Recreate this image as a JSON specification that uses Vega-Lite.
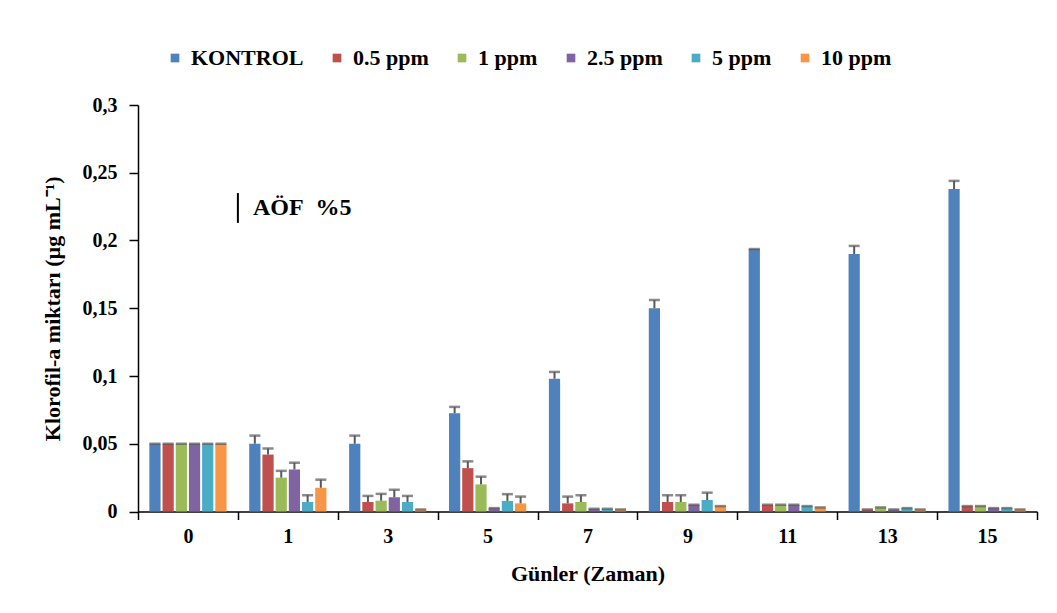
{
  "$schema": "https://vega.github.io/schema/vega-lite/v6.json",
  "width": 899,
  "height": 406.5,
  "autosize": {"type": "none"},
  "padding": {"left": 138, "top": 105, "right": 20, "bottom": 101},
  "background": "white",
  "config": {
    "font": "Liberation Serif",
    "view": {"stroke": null},
    "axis": {
      "labelFont": "Liberation Serif",
      "titleFont": "Liberation Serif",
      "labelFontWeight": "bold",
      "titleFontWeight": "bold",
      "labelColor": "black",
      "titleColor": "black",
      "domainColor": "black",
      "tickColor": "black",
      "domainWidth": 1.5,
      "tickWidth": 1.5,
      "grid": false
    },
    "legend": {
      "labelFont": "Liberation Serif",
      "labelFontWeight": "bold",
      "labelColor": "black"
    }
  },
  "data": {
    "values": [
      {"day": "0", "group": "KONTROL", "value": 0.05, "err": 0},
      {"day": "0", "group": "0.5 ppm", "value": 0.05, "err": 0},
      {"day": "0", "group": "1 ppm", "value": 0.05, "err": 0},
      {"day": "0", "group": "2.5 ppm", "value": 0.05, "err": 0},
      {"day": "0", "group": "5 ppm", "value": 0.05, "err": 0},
      {"day": "0", "group": "10 ppm", "value": 0.05, "err": 0},
      {"day": "1", "group": "KONTROL", "value": 0.05, "err": 0.006},
      {"day": "1", "group": "0.5 ppm", "value": 0.042, "err": 0.0045},
      {"day": "1", "group": "1 ppm", "value": 0.025, "err": 0.005},
      {"day": "1", "group": "2.5 ppm", "value": 0.031, "err": 0.005},
      {"day": "1", "group": "5 ppm", "value": 0.007, "err": 0.005},
      {"day": "1", "group": "10 ppm", "value": 0.0175, "err": 0.006},
      {"day": "3", "group": "KONTROL", "value": 0.05, "err": 0.006},
      {"day": "3", "group": "0.5 ppm", "value": 0.007, "err": 0.0045},
      {"day": "3", "group": "1 ppm", "value": 0.008, "err": 0.005},
      {"day": "3", "group": "2.5 ppm", "value": 0.0105, "err": 0.0055},
      {"day": "3", "group": "5 ppm", "value": 0.007, "err": 0.0045},
      {"day": "3", "group": "10 ppm", "value": 0.0015, "err": 0},
      {"day": "5", "group": "KONTROL", "value": 0.0725, "err": 0.0047},
      {"day": "5", "group": "0.5 ppm", "value": 0.032, "err": 0.005},
      {"day": "5", "group": "1 ppm", "value": 0.02, "err": 0.0057},
      {"day": "5", "group": "2.5 ppm", "value": 0.0025, "err": 0},
      {"day": "5", "group": "5 ppm", "value": 0.0078, "err": 0.005},
      {"day": "5", "group": "10 ppm", "value": 0.006, "err": 0.005},
      {"day": "7", "group": "KONTROL", "value": 0.098, "err": 0.005},
      {"day": "7", "group": "0.5 ppm", "value": 0.006, "err": 0.005},
      {"day": "7", "group": "1 ppm", "value": 0.007, "err": 0.005},
      {"day": "7", "group": "2.5 ppm", "value": 0.002, "err": 0},
      {"day": "7", "group": "5 ppm", "value": 0.002, "err": 0},
      {"day": "7", "group": "10 ppm", "value": 0.0015, "err": 0},
      {"day": "9", "group": "KONTROL", "value": 0.15, "err": 0.006},
      {"day": "9", "group": "0.5 ppm", "value": 0.007, "err": 0.005},
      {"day": "9", "group": "1 ppm", "value": 0.007, "err": 0.005},
      {"day": "9", "group": "2.5 ppm", "value": 0.005, "err": 0},
      {"day": "9", "group": "5 ppm", "value": 0.0085, "err": 0.0054},
      {"day": "9", "group": "10 ppm", "value": 0.004, "err": 0},
      {"day": "11", "group": "KONTROL", "value": 0.1937, "err": 0},
      {"day": "11", "group": "0.5 ppm", "value": 0.005, "err": 0},
      {"day": "11", "group": "1 ppm", "value": 0.005, "err": 0},
      {"day": "11", "group": "2.5 ppm", "value": 0.005, "err": 0},
      {"day": "11", "group": "5 ppm", "value": 0.004, "err": 0},
      {"day": "11", "group": "10 ppm", "value": 0.003, "err": 0},
      {"day": "13", "group": "KONTROL", "value": 0.19, "err": 0.006},
      {"day": "13", "group": "0.5 ppm", "value": 0.0015, "err": 0},
      {"day": "13", "group": "1 ppm", "value": 0.003, "err": 0},
      {"day": "13", "group": "2.5 ppm", "value": 0.0015, "err": 0},
      {"day": "13", "group": "5 ppm", "value": 0.0025, "err": 0},
      {"day": "13", "group": "10 ppm", "value": 0.0015, "err": 0},
      {"day": "15", "group": "KONTROL", "value": 0.238, "err": 0.006},
      {"day": "15", "group": "0.5 ppm", "value": 0.004, "err": 0},
      {"day": "15", "group": "1 ppm", "value": 0.004, "err": 0},
      {"day": "15", "group": "2.5 ppm", "value": 0.0025, "err": 0},
      {"day": "15", "group": "5 ppm", "value": 0.0025, "err": 0},
      {"day": "15", "group": "10 ppm", "value": 0.0015, "err": 0}
    ]
  },
  "transform": [{"calculate": "datum.value + datum.err", "as": "upper"}],
  "encoding": {
    "x": {
      "field": "day",
      "type": "nominal",
      "sort": ["0", "1", "3", "5", "7", "9", "11", "13", "15"],
      "scale": {"paddingInner": 0, "paddingOuter": 0},
      "axis": {
        "title": "Günler (Zaman)",
        "labelAngle": 0,
        "labelFontSize": 20,
        "titleFontSize": 22,
        "tickBand": "extent",
        "tickSize": 8,
        "labelPadding": 7,
        "titlePadding": 17
      }
    },
    "xOffset": {
      "field": "group",
      "type": "nominal",
      "sort": ["KONTROL", "0.5 ppm", "1 ppm", "2.5 ppm", "5 ppm", "10 ppm"],
      "scale": {"paddingInner": 0.15, "paddingOuter": 0.86}
    }
  },
  "layer": [
    {
      "mark": {"type": "bar"},
      "encoding": {
        "y": {
          "field": "value",
          "type": "quantitative",
          "scale": {"domain": [0, 0.3], "nice": false},
          "axis": {
            "title": "Klorofil-a miktarı (µg mL⁻¹)",
            "values": [0, 0.05, 0.1, 0.15, 0.2, 0.25, 0.3],
            "labelExpr": "replace(format(datum.value, '.2~f'), '.', ',')",
            "labelFontSize": 20,
            "titleFontSize": 22,
            "tickSize": 9,
            "labelPadding": 12,
            "titlePadding": 18
          }
        },
        "color": {
          "field": "group",
          "type": "nominal",
          "sort": ["KONTROL", "0.5 ppm", "1 ppm", "2.5 ppm", "5 ppm", "10 ppm"],
          "scale": {
            "domain": ["KONTROL", "0.5 ppm", "1 ppm", "2.5 ppm", "5 ppm", "10 ppm"],
            "range": ["#4F81BD", "#C0504D", "#9BBB59", "#8064A2", "#4BACC6", "#F79646"]
          },
          "legend": {
            "title": null,
            "orient": "none",
            "direction": "horizontal",
            "legendX": 26,
            "legendY": -58,
            "symbolType": "square",
            "symbolSize": 75,
            "symbolStrokeWidth": 0,
            "labelFontSize": 22,
            "labelOffset": 5,
            "columnPadding": 22,
            "padding": 0
          }
        }
      }
    },
    {
      "mark": {"type": "rule", "color": "#595959", "strokeWidth": 2},
      "encoding": {
        "y": {"field": "value", "type": "quantitative"},
        "y2": {"field": "upper"}
      }
    },
    {
      "mark": {"type": "tick", "color": "#595959", "thickness": 2.5, "size": 11, "orient": "horizontal"},
      "encoding": {
        "y": {"field": "upper", "type": "quantitative"}
      }
    },
    {
      "data": {"values": [{"day": "1", "low": 0.213, "high": 0.235, "mid": 0.224, "label": "AÖF\u00a0\u00a0%5"}]},
      "layer": [
        {
          "mark": {"type": "rule", "color": "black", "strokeWidth": 2},
          "encoding": {
            "x": {"field": "day", "type": "nominal", "bandPosition": 0},
            "xOffset": null,
            "y": {"field": "low", "type": "quantitative"},
            "y2": {"field": "high"}
          }
        },
        {
          "mark": {"type": "text", "align": "left", "baseline": "middle", "dx": 15, "fontSize": 24, "fontWeight": "bold", "font": "Liberation Serif", "color": "black"},
          "encoding": {
            "x": {"field": "day", "type": "nominal", "bandPosition": 0},
            "xOffset": null,
            "y": {"field": "mid", "type": "quantitative"},
            "text": {"field": "label"}
          }
        }
      ]
    }
  ]
}
